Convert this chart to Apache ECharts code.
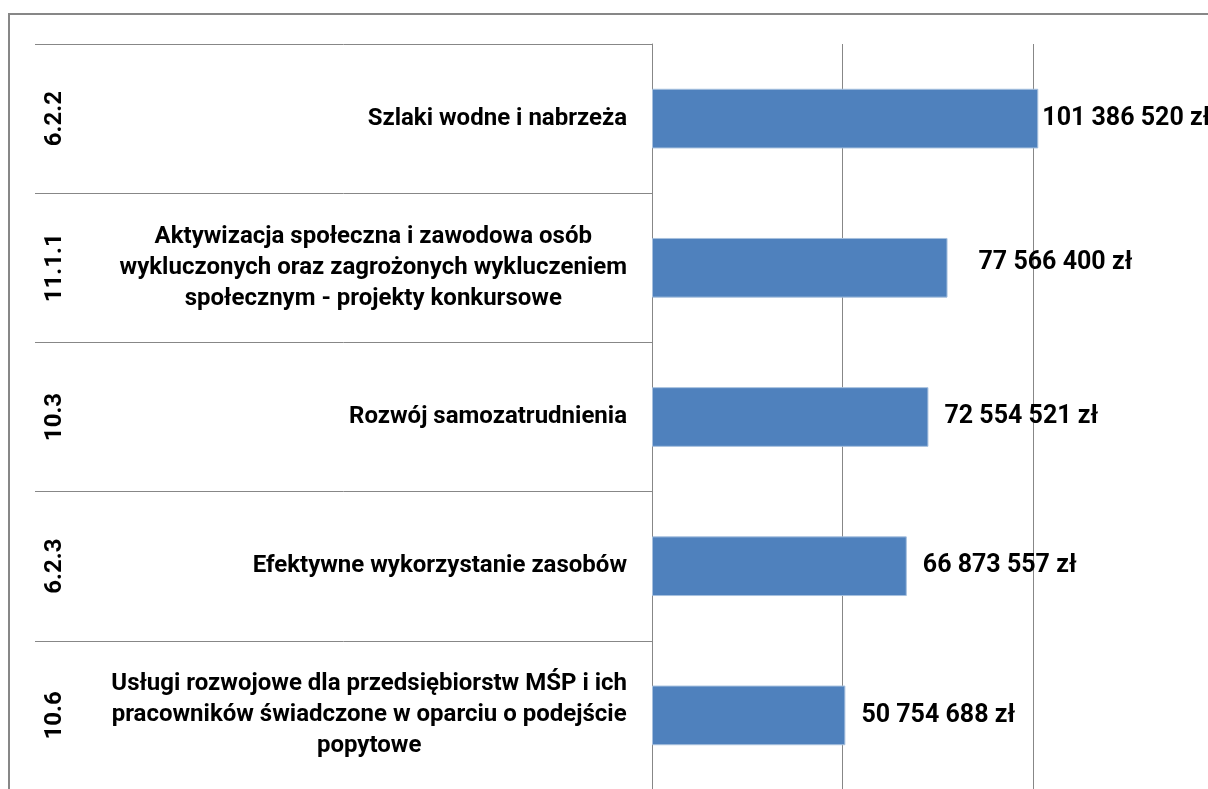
<!DOCTYPE html>
<html><head><meta charset="utf-8">
<script src="https://cdn.jsdelivr.net/npm/echarts@6/dist/echarts.min.js"></script>
<style>
html,body{margin:0;padding:0;overflow:hidden;background:#fff;width:1208px;height:789px}
#frame{position:absolute;left:8px;top:13px;width:1400px;height:900px;border:2px solid #878787;box-sizing:border-box}
#chart{position:absolute;left:0;top:0;width:1240px;height:800px}
</style></head><body><div id="frame"></div><div id="chart"></div>
<script>
const codes = ['6.2.2', '11.1.1', '10.3', '6.2.3', '10.6'];
const names = [
  'Szlaki wodne i nabrzeża',
  'Aktywizacja społeczna i zawodowa osób\nwykluczonych oraz zagrożonych wykluczeniem\nspołecznym - projekty konkursowe',
  'Rozwój samozatrudnienia',
  'Efektywne wykorzystanie zasobów',
  'Usługi rozwojowe dla przedsiębiorstw MŚP i ich\npracowników świadczone w oparciu o podejście\npopytowe'
];
const values = [101386520, 77566400, 72554521, 66873557, 50754688];

function fmt(v) {
  return String(v).replace(/\B(?=(\d{3})+(?!\d))/g, ' ') + ' zł';
}
const labelDist = [4, 31, 16, 16, 16];
const labelOff = [[0, 0], [0, -5], [0, 0], [0, 0], [0, 0]];

const chart = echarts.init(document.getElementById('chart'), null, {renderer: 'canvas'});
const FONT = 'Roboto';
chart.setOption({
  animation: false,
  backgroundColor: 'transparent',
  grid: {left: 652, top: 44, right: 16.5, bottom: 10, containLabel: false},
  xAxis: {
    type: 'value', min: 0, max: 150000000, interval: 50000000,
    axisLine: {show: false}, axisTick: {show: false}, axisLabel: {show: false},
    splitLine: {show: true, lineStyle: {color: '#878787', width: 1}}
  },
  yAxis: [{
    type: 'category', inverse: true, position: 'left', data: names,
    axisLine: {show: true, lineStyle: {color: '#878787', width: 1}},
    axisTick: {show: true, length: 617, interval: 0, lineStyle: {color: '#878787', width: 1}},
    axisLabel: {
      margin: 25, interval: 0,
      formatter: function (s) { return s.split('\n').map(l => '{c|' + l + '}').join('\n'); },
      rich: {c: {align: 'center', fontFamily: FONT, fontWeight: 'bold', fontSize: 24, lineHeight: 31, color: '#000'}}
    }
  }, {
    type: 'category', inverse: true, position: 'left', data: codes,
    axisLine: {show: false}, axisTick: {show: false},
    axisLabel: {rotate: 90, margin: 585, interval: 0, fontFamily: FONT, fontWeight: 'bold', fontSize: 24, color: '#000'}
  }],
  series: [{
    type: 'bar', yAxisIndex: 0, barWidth: '40%',
    itemStyle: {color: '#4F81BD', borderColor: '#A7C0DE', borderWidth: 1},
    data: values.map((v, i) => ({value: v, label: {distance: labelDist[i], offset: labelOff[i]}})),
    label: {
      show: true, position: 'right', fontFamily: FONT, fontWeight: 'bold', fontSize: 25, color: '#000',
      formatter: p => fmt(p.value)
    }
  }]
});
</script></body></html>
